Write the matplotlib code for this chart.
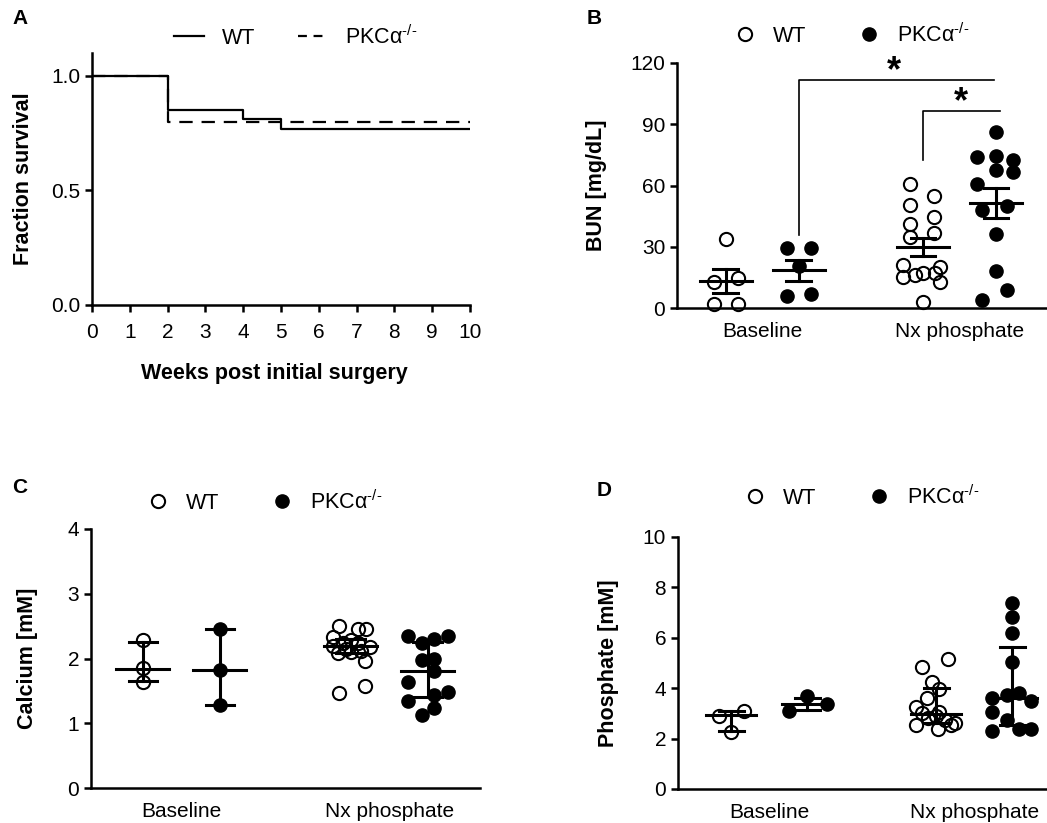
import matplotlib
matplotlib.use("Agg")
import matplotlib.pyplot as plt
from matplotlib.lines import Line2D

plt.rcParams['font.family'] = ['Liberation Sans', 'DejaVu Sans']
plt.rcParams['mathtext.fontset'] = 'custom'
plt.rcParams['mathtext.rm'] = 'Liberation Sans'
plt.rcParams['font.size'] = 15

# --- Panel A: survival ---
weeks_wt = [0, 2, 4, 5, 10]
surv_wt = [1.0, 0.85, 0.81, 0.77, 0.77]
weeks_ko = [0, 2, 10]
surv_ko = [1.0, 0.80, 0.80]

groups = ["Baseline", "Nx phosphate"]

# --- Panel B: BUN (mean +/- SEM computed) ---
bun_wt_base = [33.9, 12.8, 14.8, 2.1, 2.1]
bun_ko_base = [29.4, 29.4, 20.7, 6.0, 7.0]
bun_wt_nx = [60.7, 54.9, 50.5, 44.6, 41.2, 36.8, 34.8, 21.1, 20.4, 15.4, 17.1, 17.4, 13.0, 16.5, 3.1]
bun_ko_nx = [86.1, 73.9, 74.4, 72.4, 67.6, 66.6, 60.7, 48.0, 50.0, 36.3, 18.2, 8.9, 4.1]
# jitter (in px of the original figure)
bun_dx = [[0, -12, 12, -12, 12],
          [-12, 12, 0, -12, 12],
          [-13, 11, -13, 11, -13, 11, -13, -20, 17, -20, 0, 12, 17, -8, 0],
          [0, -19, 0, 17, 0, 17, -19, -14, 11, 0, 0, 11, -14]]

# --- Panel C: calcium ---
ca_wt_base = [2.29, 1.85, 1.63]
ca_ko_base = [2.46, 1.82, 1.28]
ca_wt_nx = [2.50, 2.33, 2.46, 2.46, 2.29, 2.24, 2.24, 2.18, 2.08, 2.10, 1.96, 1.47, 1.58, 2.15, 2.12, 2.20]
ca_ko_nx = [2.34, 2.24, 2.30, 2.35, 1.98, 2.00, 1.80, 1.64, 1.35, 1.48, 1.44, 1.24, 1.13]
ca_dx = [[0, 0, 0],
         [0, 0, 0],
         [-12, -18, 7, 15, 0, -8, 7, 19, -13, 0, 14, -12, 14, -5, 10, -18],
         [-20, -6, 6, 20, -6, 6, 6, -20, -20, 20, 6, 6, -6]]
ca_mid = [1.84, 1.82, 2.19, 1.80]
ca_lo = [1.65, 1.28, 2.08, 1.40]
ca_hi = [2.25, 2.46, 2.30, 2.25]

# --- Panel D: phosphate ---
ph_wt_base = [2.90, 3.11, 2.28]
ph_ko_base = [3.11, 3.69, 3.36]
ph_wt_nx = [4.84, 5.16, 4.25, 3.97, 3.61, 3.25, 3.02, 3.06, 2.54, 2.82, 2.38, 2.54, 2.62, 2.74, 2.90]
ph_ko_nx = [7.40, 6.81, 6.21, 5.05, 3.61, 3.73, 3.81, 3.49, 3.06, 2.74, 2.30, 2.38, 2.38]
ph_dx = [[-12, 13, 0],
         [-18, 0, 20],
         [-14, 12, -4, 3, -9, -20, -14, 3, -20, -8, 2, 15, 19, 9, 0],
         [0, 0, 0, 0, -20, -5, 7, 19, -20, -5, -20, 7, 19]]
ph_mid = [2.92, 3.36, 2.97, 3.60]
ph_lo = [2.30, 3.14, 2.62, 2.55]
ph_hi = [3.08, 3.63, 4.00, 5.62]

pos = [0, 1, 2.7, 3.7]
ko_label = r'PKCα$^{\text{-/-}}$'
LW = 1.8
LAB = 15.5


def style_axes(ax):
    ax.spines['top'].set_visible(False)
    ax.spines['right'].set_visible(False)
    ax.spines['left'].set_linewidth(LW)
    ax.spines['bottom'].set_linewidth(LW)
    ax.tick_params(direction='out', width=LW, length=5, labelsize=15)


def scatter_groups(ax, data, dx, px_per_unit):
    for i, (vals, offs) in enumerate(zip(data, dx)):
        xs = [pos[i] + o / px_per_unit for o in offs]
        if i % 2 == 0:
            ax.plot(xs, vals, 'o', ms=9.5, mfc='none', mec='black', mew=1.5, clip_on=False, zorder=2)
        else:
            ax.plot(xs, vals, 'o', ms=9.5, mfc='black', mec='black', clip_on=False, zorder=2)


def summary_bars(ax, mid, lo, hi, w_mid, w_cap):
    for i in range(4):
        x = pos[i]
        ax.plot([x - w_mid / 2, x + w_mid / 2], [mid[i], mid[i]], color='black', lw=LW + 0.4, zorder=3)
        ax.plot([x, x], [lo[i], hi[i]], color='black', lw=LW + 0.4, zorder=3)
        for yy in (lo[i], hi[i]):
            ax.plot([x - w_cap / 2, x + w_cap / 2], [yy, yy], color='black', lw=LW + 0.4, zorder=3)


def group_axis(ax):
    ax.set_xticks([0.5, 3.2])
    ax.set_xticklabels(groups)
    ax.tick_params(axis='x', length=0, pad=10)


fig = plt.figure(figsize=(10.47, 8.23), dpi=100)
W, H = 1047, 823

# Panel A
axA = fig.add_axes([92 / W, 1 - 305 / H, 378 / W, 252 / H])
axA.step(weeks_wt, surv_wt, where='post', color='black', lw=1.6, zorder=3)
axA.step(weeks_ko, surv_ko, where='post', color='black', lw=1.6, dashes=(6, 4), zorder=2)
axA.set_xlim(0, 10)
axA.set_ylim(0, 1.1)
axA.set_xticks(range(11))
axA.set_yticks([0, 0.5, 1.0])
axA.set_yticklabels(['0.0', '0.5', '1.0'])
style_axes(axA)
axA.tick_params(axis='x', pad=8)
axA.set_xlabel('Weeks post initial surgery', fontweight='bold', fontsize=LAB, va='center')
axA.xaxis.set_label_coords((274 - 92) / 378, (305 - 373) / 252)
axA.set_ylabel('Fraction survival', fontweight='bold', fontsize=LAB, labelpad=12)

# Panel B
axB = fig.add_axes([677 / W, 1 - 308.3 / H, 370 / W, 245.6 / H])
bun = [bun_wt_base, bun_ko_base, bun_wt_nx, bun_ko_nx]
scatter_groups(axB, bun, bun_dx, 73)
bmid, blo, bhi = [], [], []
for vals in bun:
    n = len(vals)
    m = sum(vals) / n
    sd = (sum((v - m) ** 2 for v in vals) / (n - 1)) ** 0.5
    se = sd / n ** 0.5
    bmid.append(m)
    blo.append(m - se)
    bhi.append(m + se)
summary_bars(axB, bmid, blo, bhi, 0.72, 0.34)
axB.set_xlim(-0.67, 4.4)
axB.set_ylim(0, 120)
axB.set_yticks([0, 30, 60, 90, 120])
style_axes(axB)
group_axis(axB)
axB.set_ylabel('BUN [mg/dL]', fontweight='bold', fontsize=LAB, labelpad=17)
# significance brackets
axB.plot([1, 1, 3.68], [36, 111.5, 111.5], color='black', lw=1.2, clip_on=False)
axB.plot([2.7, 2.7, 3.75], [72.4, 96.3, 96.3], color='black', lw=1.2, clip_on=False)
axB.text(2.3, 115.5, '*', ha='center', va='center', fontsize=26, fontweight='bold')
axB.text(3.22, 100.5, '*', ha='center', va='center', fontsize=26, fontweight='bold')

# Panel C
axC = fig.add_axes([91 / W, 1 - 788 / H, 389 / W, 259 / H])
scatter_groups(axC, [ca_wt_base, ca_ko_base, ca_wt_nx, ca_ko_nx], ca_dx, 77)
summary_bars(axC, ca_mid, ca_lo, ca_hi, 0.69, 0.37)
axC.set_xlim(-0.675, 4.38)
axC.set_ylim(0, 4)
axC.set_yticks([0, 1, 2, 3, 4])
style_axes(axC)
group_axis(axC)
axC.set_ylabel('Calcium [mM]', fontweight='bold', fontsize=LAB, labelpad=21)

# Panel D
axD = fig.add_axes([678 / W, 1 - 789 / H, 369 / W, 252 / H])
scatter_groups(axD, [ph_wt_base, ph_ko_base, ph_wt_nx, ph_ko_nx], ph_dx, 76)
summary_bars(axD, ph_mid, ph_lo, ph_hi, 0.66, 0.33)
axD.set_xlim(-0.7, 4.155)
axD.set_ylim(0, 10)
axD.set_yticks([0, 2, 4, 6, 8, 10])
style_axes(axD)
group_axis(axD)
axD.set_ylabel('Phosphate [mM]', fontweight='bold', fontsize=LAB, labelpad=17)

# legends
line_handles = [Line2D([], [], color='black', lw=1.6),
                Line2D([], [], color='black', lw=1.6, dashes=(4, 3))]
dot_handles = [Line2D([], [], ls='none', marker='o', ms=9.5, mfc='none', mec='black', mew=1.5),
               Line2D([], [], ls='none', marker='o', ms=9.5, mfc='black', mec='black')]
leg_kw = dict(ncol=2, frameon=False, loc='center', fontsize=15.5, borderpad=0,
              handletextpad=0.8)
fig.legend(line_handles, ['WT', ko_label], bbox_to_anchor=(296 / W, 1 - 37 / H),
           handlelength=1.4, columnspacing=2.0, **leg_kw)
for (cx, cy) in [(852, 35), (265, 502), (862, 497)]:
    fig.legend(dot_handles, ['WT', ko_label], bbox_to_anchor=(cx / W, 1 - cy / H),
               handlelength=1.0, columnspacing=2.4, **leg_kw)

# panel letters
for (lx, ly, letter) in [(12, 18, 'A'), (587, 18, 'B'), (12, 487, 'C'), (597, 490, 'D')]:
    fig.text(lx / W, 1 - ly / H, letter, fontsize=15, fontweight='bold', va='center', ha='left')

fig.savefig('out.png', dpi=100)
